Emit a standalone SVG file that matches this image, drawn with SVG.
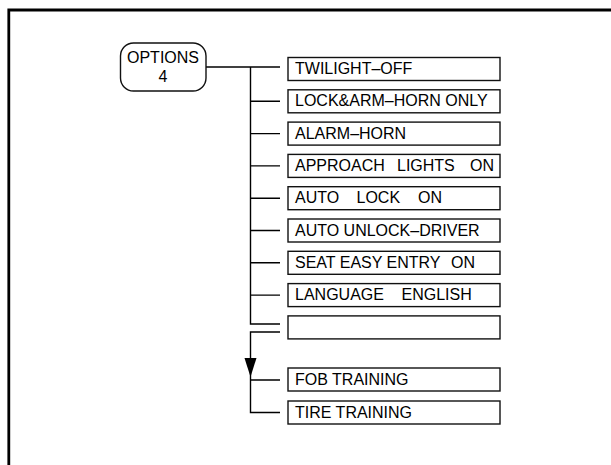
<svg xmlns="http://www.w3.org/2000/svg" width="611" height="465" viewBox="0 0 611 465">
<style>
  .frame{fill:none;stroke:#000;stroke-width:2.8}
  .box{fill:#fff;stroke:#111;stroke-width:1.4}
  .ln{fill:none;stroke:#000;stroke-width:1.4}
  text{font-family:"Liberation Sans",Arial,sans-serif;font-size:16px;fill:#000;white-space:pre}
  .c{text-anchor:middle}
</style>
<rect width="611" height="465" fill="#fff"/>
<path class="frame" d="M8.8,465 V10 H611"/>

<g id="connectors">
  <path class="ln" d="M206,67 H280"/>
  <path class="ln" d="M250.5,67 V324 H280"/>
  <path class="ln" d="M250.5,101.3 H280 M250.5,133.6 H280 M250.5,165.9 H280 M250.5,198.2 H280 M250.5,230.5 H280 M250.5,262.8 H280 M250.5,295.1 H280"/>
  <path class="ln" d="M280,332 H250.5 V412.5 H280 M250.5,380 H280"/>
  <path d="M244.5,358 L256.5,358 L250.5,377 Z" fill="#000"/>
</g>

<g id="options">
  <rect class="box" x="120.5" y="43" width="85.5" height="48" rx="13"/>
  <text class="c" x="163" y="63">OPTIONS</text>
  <text class="c" x="163" y="82">4</text>
</g>

<g id="twilight">
  <rect class="box" x="288" y="57.5" width="212" height="23"/>
  <text x="295" y="74">TWILIGHT–OFF</text>
</g>
<g id="lockarm">
  <rect class="box" x="288" y="89.8" width="212" height="23"/>
  <text x="295" y="106.3">LOCK&amp;ARM–HORN ONLY</text>
</g>
<g id="alarm">
  <rect class="box" x="288" y="122.1" width="212" height="23"/>
  <text x="295" y="138.6">ALARM–HORN</text>
</g>
<g id="approach">
  <rect class="box" x="288" y="154.4" width="212" height="23"/>
  <text x="295" y="170.9">APPROACH</text>
  <text x="397" y="170.9">LIGHTS</text>
  <text x="470" y="170.9">ON</text>
</g>
<g id="autolock">
  <rect class="box" x="288" y="186.7" width="212" height="23"/>
  <text x="295" y="203.2">AUTO</text>
  <text x="356.5" y="203.2">LOCK</text>
  <text x="418" y="203.2">ON</text>
</g>
<g id="autounlock">
  <rect class="box" x="288" y="219" width="212" height="23"/>
  <text x="295" y="235.5">AUTO UNLOCK–DRIVER</text>
</g>
<g id="seat">
  <rect class="box" x="288" y="251.3" width="212" height="23"/>
  <text x="295" y="267.8">SEAT EASY ENTRY</text>
  <text x="451" y="267.8">ON</text>
</g>
<g id="language">
  <rect class="box" x="288" y="283.6" width="212" height="23"/>
  <text x="295" y="300.1">LANGUAGE</text>
  <text x="401.5" y="300.1">ENGLISH</text>
</g>
<g id="empty">
  <rect class="box" x="288" y="315.9" width="212" height="23"/>
</g>
<g id="fob">
  <rect class="box" x="288" y="368" width="212" height="23"/>
  <text x="295" y="384.5">FOB TRAINING</text>
</g>
<g id="tire">
  <rect class="box" x="288" y="401" width="212" height="23"/>
  <text x="295" y="417.5">TIRE TRAINING</text>
</g>
</svg>
